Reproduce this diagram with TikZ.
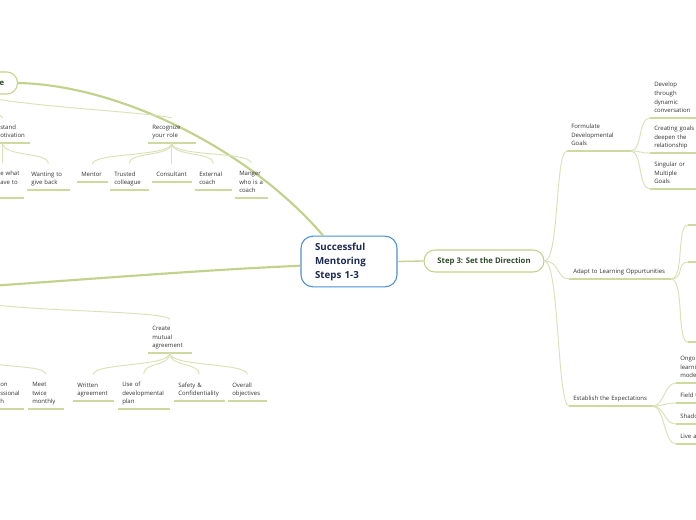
\documentclass[tikz,border=0pt]{standalone}
\usepackage{fontspec}
\setmainfont{Open Sans}
\usepackage{tikz}
\usetikzlibrary{positioning, calc}
\definecolor{mmBlue}{HTML}{4A90D9}
\definecolor{mmNavy}{HTML}{1C2B52}
\definecolor{mmMoss}{HTML}{2F4A2A}
\definecolor{mmGreen}{HTML}{C2D18C}
\definecolor{mmLine}{HTML}{D9E2B6}
\definecolor{mmUnder}{HTML}{CCD99F}
\definecolor{mmInk}{HTML}{333333}
\tikzset{
  mmroot/.style={draw=mmBlue, line width=0.8pt, fill=white, rounded corners=9pt, align=left,
                 text width=51pt, minimum height=38pt, inner xsep=10.5pt,
                 font=\fontsize{7.3pt}{10.5pt}\selectfont\bfseries, text=mmNavy},
  mmmain/.style={draw=mmGreen, line width=0.8pt, fill=white, rounded corners=8pt,
                 minimum height=16.5pt, inner xsep=10pt,
                 font=\fontsize{5.8pt}{7pt}\selectfont\bfseries, text=mmMoss},
  mmtopic/.style={align=left, anchor=south west, inner xsep=3pt, inner ysep=2.8pt,
                  font=\fontsize{4.5pt}{6.4pt}\selectfont, text=mmInk,
                  execute at end node={\vphantom{gy}},
                  append after command={(\tikzlastnode.south west) edge[mmunder] (\tikzlastnode.south east)}},
  mmunder/.style={draw=mmUnder, line width=1.5pt},
  mmtrunk/.style={draw=mmGreen, line width=1.6pt},
  mmlink/.style={draw=mmLine, line width=0.7pt},
}
\begin{document}
\begin{tikzpicture}[x=0.75pt, y=-0.75pt]
\fill[white] (0,0) rectangle (696,520);
\useasboundingbox (0,0) rectangle (696,520);

% centre and main topics
\node[mmroot] (root) at (349,261.5) {Successful\\Mentoring\\Steps 1-3};
\node[mmmain] (direction) at (484,261) {Step 3: Set the Direction};
\node[mmmain, anchor=east, text width=40pt, align=right] (stepOne) at (18,83) {e};
\coordinate (stepTwo) at (-40,288);
\coordinate (stepTwoFoot) at (-30,300);

\draw[mmtrunk] (stepOne.east) .. controls (120,85) and (250,150) .. (root.135);
\draw[mmtrunk] (root.185) .. controls (200,270) and (80,280) .. (stepTwo);
\draw[mmtrunk, line width=1pt] (root.east) -- (direction.west);

% step one
\node[mmtopic, text width=19pt] (motivation) at (-4,143) {stand\\otivation};
\node[mmtopic, text width=29.25pt] (role) at (148,143) {Recognize\\your role};
\node[mmtopic, text width=14.5pt] (giveWhat) at (-4,198) {e what\\ave to\\\mbox{}};
\node[mmtopic, text width=25.5pt] (giveBack) at (27,190) {Wanting to\\give back};
\node[mmtopic, text width=16.5pt] (mentor) at (77,182) {Mentor};
\node[mmtopic, text width=22.5pt] (colleague) at (110,190) {Trusted\\colleague};
\node[mmtopic, text width=23.25pt] (consultant) at (152,182) {Consultant};
\node[mmtopic, text width=21pt] (external) at (195,190) {External\\coach};
\node[mmtopic, text width=18pt] (manager) at (235,198) {Manger\\who is a\\coach};

\draw[mmlink] (stepOne.south) .. controls +(0,14) and +(-4,-6) .. ([xshift=5pt,yshift=2pt]motivation.north west);
\draw[mmlink] (stepOne.south) .. controls (10,106) and (150,112) .. ([yshift=2pt]role.north);
\draw[mmlink] ([xshift=5pt]motivation.south west) .. controls +(0,12) and +(0,-10) .. ([xshift=5pt,yshift=3pt]giveWhat.north west);
\draw[mmlink] ([xshift=5pt]motivation.south west) .. controls +(0,14) and +(0,-12) .. ([yshift=3pt]giveBack.north);
\draw[mmlink] (role.south) .. controls +(0,14) and +(0,-12) .. ([yshift=3pt]mentor.north);
\draw[mmlink] (role.south) .. controls +(0,14) and +(0,-12) .. ([yshift=3pt]colleague.north);
\draw[mmlink] (role.south) .. controls +(0,14) and +(0,-12) .. ([yshift=3pt]consultant.north);
\draw[mmlink] (role.south) .. controls +(0,14) and +(0,-12) .. ([yshift=3pt]external.north);
\draw[mmlink] (role.south) .. controls +(0,14) and +(0,-12) .. ([yshift=3pt]manager.north);

% step two
\node[mmtopic, text width=26.25pt] (agreement) at (148,353) {Create\\mutual\\agreement};
\node[mmtopic, text width=14.25pt] (growth) at (-4,409) {on\\ssional\\h};
\node[mmtopic, text width=20.25pt] (meet) at (28,409) {Meet\\twice\\monthly};
\node[mmtopic, text width=24pt] (written) at (73,401) {Written\\agreement};
\node[mmtopic, text width=32.25pt] (plan) at (118,409) {Use of\\developmental\\plan};
\node[mmtopic, text width=31.5pt] (safety) at (174,401) {Safety \&\\Confidentiality};
\node[mmtopic, text width=22.5pt] (objectives) at (228,401) {Overall\\objectives};
\coordinate (meetFork) at (-14,360);

\draw[mmlink] (stepTwoFoot) .. controls (0,312) and (168,310) .. ([yshift=2pt]agreement.north);
\draw[mmlink] (meetFork) .. controls +(0,8) and +(0,-10) .. ([yshift=3pt]meet.north);
\draw[mmlink] (agreement.south) .. controls +(0,14) and +(0,-12) .. ([yshift=3pt]written.north);
\draw[mmlink] (agreement.south) .. controls +(0,14) and +(0,-12) .. ([yshift=3pt]plan.north);
\draw[mmlink] (agreement.south) .. controls +(0,14) and +(0,-12) .. ([yshift=3pt]safety.north);
\draw[mmlink] (agreement.south) .. controls +(0,14) and +(0,-12) .. ([yshift=3pt]objectives.north);

% step three
\node[mmtopic, text width=41.25pt] (goals) at (567,151) {Formulate\\Developmental\\Goals};
\node[mmtopic, text width=30pt] (develop) at (650,118) {Develop\\through\\dynamic\\conversation};
\node[mmtopic, text width=30.5pt] (deepen) at (650,153) {Creating goals\\deepen the\\relationship};
\node[mmtopic, text width=30pt] (singular) at (650,189) {Singular or\\Multiple\\Goals};
\node[mmtopic, text width=70pt] (adapt) at (569,279) {Adapt to Learning Oppurtunities};
\node[mmtopic, text width=56.25pt] (expect) at (569,406) {Establish the Expectations};
\node[mmtopic, text width=30pt] (ongoing) at (676,383) {Ongoi\\learni\\mode};
\node[mmtopic, text width=30pt] (field) at (676,403) {Field t};
\node[mmtopic, text width=30pt] (shadow) at (676,424) {Shado};
\node[mmtopic, text width=30pt] (live) at (676,444) {Live a};
\coordinate (adaptOne) at (688,225);
\coordinate (adaptTwo) at (688,262);
\coordinate (adaptThree) at (688,342);

\draw[mmlink] (direction.east) .. controls +(15,0) and +(-12,0) .. (goals.south west);
\draw[mmlink] (direction.east) .. controls +(15,0) and +(-12,0) .. (adapt.south west);
\draw[mmlink] (direction.east) .. controls +(15,0) and +(-12,0) .. (expect.south west);
\draw[mmlink] (goals.south east) .. controls +(12,0) and +(-12,0) .. (develop.south west);
\draw[mmlink] (goals.south east) .. controls +(12,0) and +(-12,0) .. (deepen.south west);
\draw[mmlink] (goals.south east) .. controls +(12,0) and +(-12,0) .. (singular.south west);
\draw[mmlink] (adapt.south east) .. controls +(14,0) and +(-12,0) .. (adaptOne);
\draw[mmlink] (adapt.south east) .. controls +(14,0) and +(-12,0) .. (adaptTwo);
\draw[mmlink] (adapt.south east) .. controls +(14,0) and +(-12,0) .. (adaptThree);
\draw[mmunder] (adaptOne) -- ++(12,0);
\draw[mmunder] (adaptTwo) -- ++(12,0);
\draw[mmunder] (adaptThree) -- ++(12,0);
\draw[mmlink] (expect.south east) .. controls +(12,0) and +(-12,0) .. (ongoing.south west);
\draw[mmlink] (expect.south east) .. controls +(12,0) and +(-12,0) .. (field.south west);
\draw[mmlink] (expect.south east) .. controls +(12,0) and +(-12,0) .. (shadow.south west);
\draw[mmlink] (expect.south east) .. controls +(12,0) and +(-12,0) .. (live.south west);
\end{tikzpicture}
\end{document}
